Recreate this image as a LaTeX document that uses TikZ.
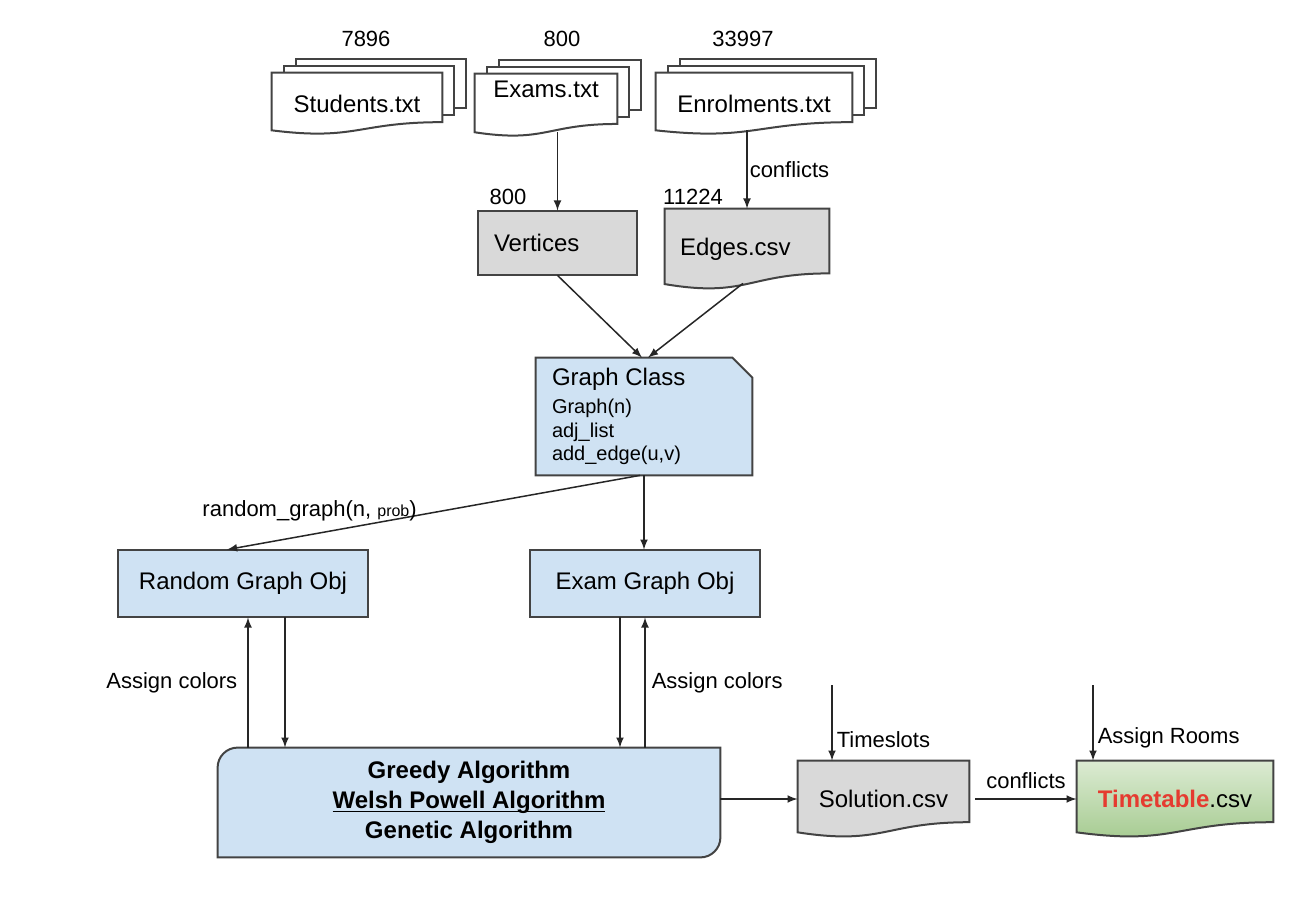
\documentclass[tikz,border=0pt]{standalone}
\usepackage{fontspec}
\setmainfont{Liberation Sans}
\usetikzlibrary{calc,backgrounds}
\definecolor{edgegray}{HTML}{434343}
\definecolor{filegray}{HTML}{D9D9D9}
\definecolor{classblue}{HTML}{CFE2F3}
\definecolor{tttop}{HTML}{DCEBD3}
\definecolor{ttbot}{HTML}{A2C98C}
\definecolor{ttred}{HTML}{E53B30}
\tikzset{
  mainfont/.style={font=\fontsize{12}{14}\selectfont},
  lbl/.style={font=\fontsize{11}{13}\selectfont,inner sep=2pt},
  outline/.style={draw=edgegray,line width=1pt},
  sheet/.style={outline,fill=white},
  arr/.style={draw=black!85,line width=0.75pt,-latex}
}
\newcommand{\docshape}[2]{%
  \draw[#2] (#1.north west) -- (#1.north east)
    -- ($(#1.north east)!0.802!(#1.south east)$)
    .. controls ($(#1.north)!0.802!(#1.south)$) and ($(#1.north)!1.107!(#1.south)$)
    .. ($(#1.north west)!0.934!(#1.south west)$) -- cycle;}
\newcommand{\docstack}[1]{%
  \foreach \s in {2,1}
    \draw[sheet] ($(#1.north west)+(12*\s,-7*\s)$)
      rectangle ($(#1.north east)!0.802!(#1.south east)+(12*\s,-7*\s)$);
  \docshape{#1}{sheet}}

\begin{document}
\begin{tikzpicture}[x=0.5pt,y=-0.5pt]
  \useasboundingbox (0,0) rectangle (1300,914);

  \node[mainfont,minimum width=85pt,minimum height=30.5pt] (students) at (357,103.5) {Students.txt};
  \node[mainfont,minimum width=71pt,inner ysep=0pt,text height=12pt,text depth=19pt] (exams) at (546,105) {Exams.txt};
  \node[mainfont,minimum width=98pt,minimum height=30.5pt] (enrol) at (754,103.5) {Enrolments.txt};
  \node[lbl] (nstud) at (366,39) {7896};
  \node[lbl] (nexam) at (562,39) {800};
  \node[lbl] (nenrol) at (743,39) {33997};

  \node[mainfont,minimum width=79.5pt,minimum height=32pt,text width=63.5pt,align=left] (vert) at (557.5,243) {Vertices};
  \node[mainfont,minimum width=82pt,minimum height=40pt,text width=67pt,align=left] (edges) at (747,249) {Edges.csv};
  \node[lbl] (nvert) at (508,197) {800};
  \node[lbl] (nedges) at (693,197) {11224};

  \node[font=\fontsize{10}{11.75}\selectfont,minimum width=108pt,minimum height=58.5pt,text width=92pt,align=left] (graph) at (644,416.5)
    {{\fontsize{12}{14}\selectfont Graph Class}\\[2.25pt]Graph(n)\\adj\_list\\add\_edge(u,v)};

  \node[mainfont,minimum width=125pt,minimum height=33.5pt] (rgo) at (243,583.5) {Random Graph Obj};
  \node[mainfont,minimum width=115pt,minimum height=33.5pt] (ego) at (645,583.5) {Exam Graph Obj};

  \node[font=\fontsize{12}{15}\selectfont\bfseries,align=center,minimum width=251pt,minimum height=54.5pt] (algo) at (469,802.5)
    {Greedy Algorithm\\\underline{\smash{Welsh Powell Algorithm}}\\Genetic Algorithm};

  \node[mainfont,minimum width=85.5pt,minimum height=38pt] (sol) at (883.5,799) {Solution.csv};
  \node[mainfont,minimum width=98pt,minimum height=38pt] (tt) at (1175,799) {{\color{ttred}\bfseries Timetable}.csv};

  \coordinate (exbot) at ([yshift=2pt]exams.south);
  \coordinate (enbot) at ([yshift=2pt]enrol.south);
  \coordinate (rgoa) at ([xshift=2.5pt]rgo.south);
  \coordinate (rgob) at ([xshift=21pt]rgo.south);
  \coordinate (egob) at ([xshift=-12.5pt]ego.south);
  \coordinate (tsin) at (832,685);
  \coordinate (arin) at (1093,685);

  \draw[arr] (vert.north |- exbot) -- (vert.north);
  \draw[arr] (edges.north |- enbot) -- (edges.north) node[lbl,midway,right,inner sep=1pt] {conflicts};
  \draw[arr] (vert.south) -- ([xshift=-1pt]graph.north);
  \draw[arr] ([shift={(-2pt,3pt)}]edges.south) -- ([xshift=2pt]graph.north);
  \draw[arr] ([xshift=-2pt]graph.south) -- ([xshift=-8pt]rgo.north)
    node[lbl,pos=0.8,yshift=12pt] {random\_graph(n, {\fontsize{8}{9}\selectfont prob})};
  \draw[arr] (graph.south) -- (graph.south |- ego.north);
  \draw[arr] (rgoa |- algo.north) -- (rgoa) node[lbl,midway,left,inner sep=5pt] {Assign colors};
  \draw[arr] (rgob) -- (rgob |- algo.north);
  \draw[arr] (egob) -- (egob |- algo.north);
  \draw[arr] (ego.south |- algo.north) -- (ego.south) node[lbl,midway,right,inner sep=3pt] {Assign colors};
  \draw[arr] (algo.east |- sol.west) -- (sol.west);
  \draw[arr] (tsin) -- (tsin |- sol.north) node[lbl,pos=0.72,right,inner sep=2pt] {Timeslots};
  \draw[arr] ([xshift=3pt]sol.east) -- (tt.west) node[lbl,midway,above,inner sep=5pt] {conflicts};
  \draw[arr] (arin) -- (arin |- tt.north) node[lbl,pos=0.7,right,inner sep=2pt] {Assign Rooms};

  \begin{scope}[on background layer]
    \docstack{students}
    \docstack{exams}
    \docstack{enrol}
    \draw[outline,fill=filegray] (vert.north west) rectangle (vert.south east);
    \docshape{edges}{outline,fill=filegray}
    \draw[outline,fill=classblue] (graph.north west) -- ([xshift=-10pt]graph.north east)
      -- ([yshift=-10pt]graph.north east) -- (graph.south east) -- (graph.south west) -- cycle;
    \draw[outline,fill=classblue] (rgo.north west) rectangle (rgo.south east);
    \draw[outline,fill=classblue] (ego.north west) rectangle (ego.south east);
    \draw[outline,fill=classblue] (algo.south west) -- ([yshift=-10pt]algo.north west)
      arc[start angle=180,end angle=90,radius=10pt] -- (algo.north east)
      -- ([yshift=10pt]algo.south east) arc[start angle=0,end angle=-90,radius=10pt] -- cycle;
    \docshape{sol}{outline,fill=filegray}
    \docshape{tt}{outline,top color=tttop,bottom color=ttbot}
  \end{scope}
\end{tikzpicture}
\end{document}
